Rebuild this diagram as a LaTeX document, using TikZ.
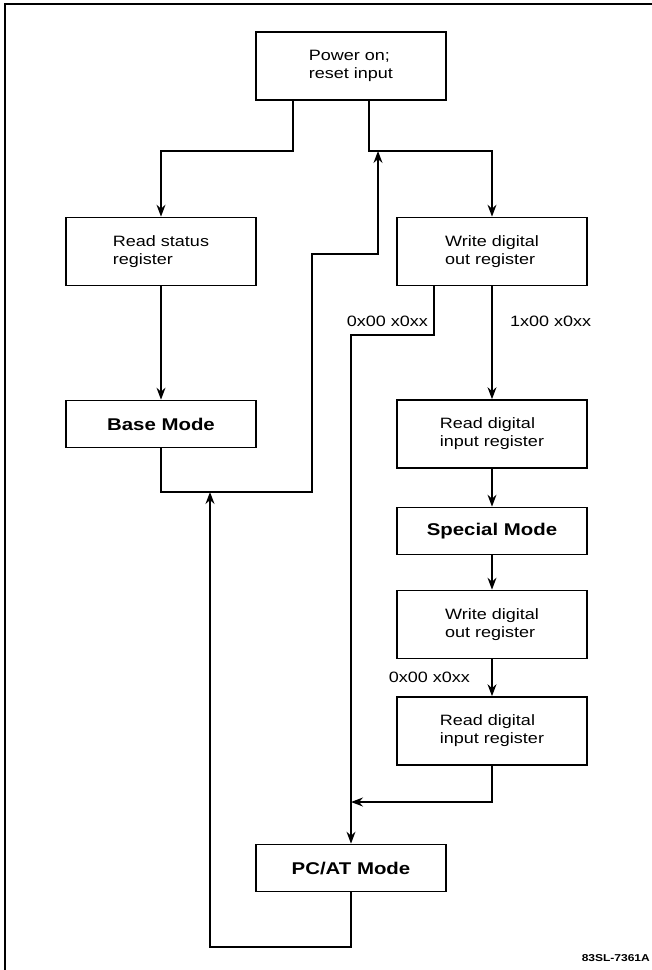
\documentclass[tikz,border=0pt]{standalone}
\usepackage{fontspec}
\setmainfont{Liberation Sans}[FakeStretch=1.2]
\usetikzlibrary{arrows.meta}
\begin{document}
\begin{tikzpicture}[x=1pt,y=-1pt,
  box/.style={draw, line width=1.7pt, minimum width=190pt, inner sep=0pt, align=left, font=\fontsize{15}{18}\selectfont},
  tallbox/.style={box, minimum height=68pt},
  modebox/.style={box, minimum height=47pt, font=\fontsize{17}{20}\selectfont\bfseries},
  conn/.style={line width=1.4pt},
  arr/.style={conn, -{Stealth[length=12pt,width=9pt,inset=4pt]}},
  lbl/.style={inner sep=0pt, font=\fontsize{15}{18}\selectfont}]
\useasboundingbox (0,0) rectangle (652,970);
\draw[line width=2.2pt] (5,970) -- (5,4) -- (652,4);

\node[tallbox] (pwr) at (351,66) {Power on;\\reset input};
\node[tallbox] (rss) at (161,251.5) {Read status\\register};
\node[tallbox] (wdo1) at (492,251.5) {Write digital\\out register};
\node[modebox] (base) at (161,424) {Base Mode};
\node[tallbox] (rdi1) at (492,434) {Read digital\\input register};
\node[modebox] (spec) at (492,531) {Special Mode};
\node[tallbox] (wdo2) at (492,624.5) {Write digital\\out register};
\node[tallbox] (rdi2) at (492,731) {Read digital\\input register};
\node[modebox] (pcat) at (351,868) {PC/AT Mode};

\coordinate (pL) at (293,151);
\coordinate (pR) at (369,151);
\coordinate (ret) at (378,151);
\coordinate (b1) at (312,492);
\coordinate (b2) at (378,254);
\coordinate (w1) at (434,335);
\coordinate (m) at (351,802);
\coordinate (p1) at (210,947);
\coordinate (p2) at (210,492);

\draw[arr] (pwr.south -| pL) -- (pL) -| (rss.north);
\draw[arr] (pwr.south -| pR) -- (pR) -| (wdo1.north);
\draw[arr] (rss) -- (base);
\draw[arr] (base.south) |- (b1) |- (b2) -- (ret);
\draw[arr] (wdo1.south -| w1) -- (w1) -| (pcat.north);
\draw[arr] (wdo1) -- (rdi1);
\draw[arr] (rdi1) -- (spec);
\draw[arr] (spec) -- (wdo2);
\draw[arr] (wdo2) -- (rdi2);
\draw[arr] (rdi2.south) |- (m);
\draw[arr] (pcat.south) |- (p1) -- (p2);

\node[lbl, anchor=east] (l1) at (428,321) {0x00 x0xx};
\node[lbl, anchor=west] (l2) at (510,321) {1x00 x0xx};
\node[lbl, anchor=east] (l3) at (470,677) {0x00 x0xx};
\node[inner sep=0pt, anchor=east, font=\fontsize{10}{12}\selectfont\bfseries] (fig) at (650,958) {83SL-7361A};
\end{tikzpicture}
\end{document}
